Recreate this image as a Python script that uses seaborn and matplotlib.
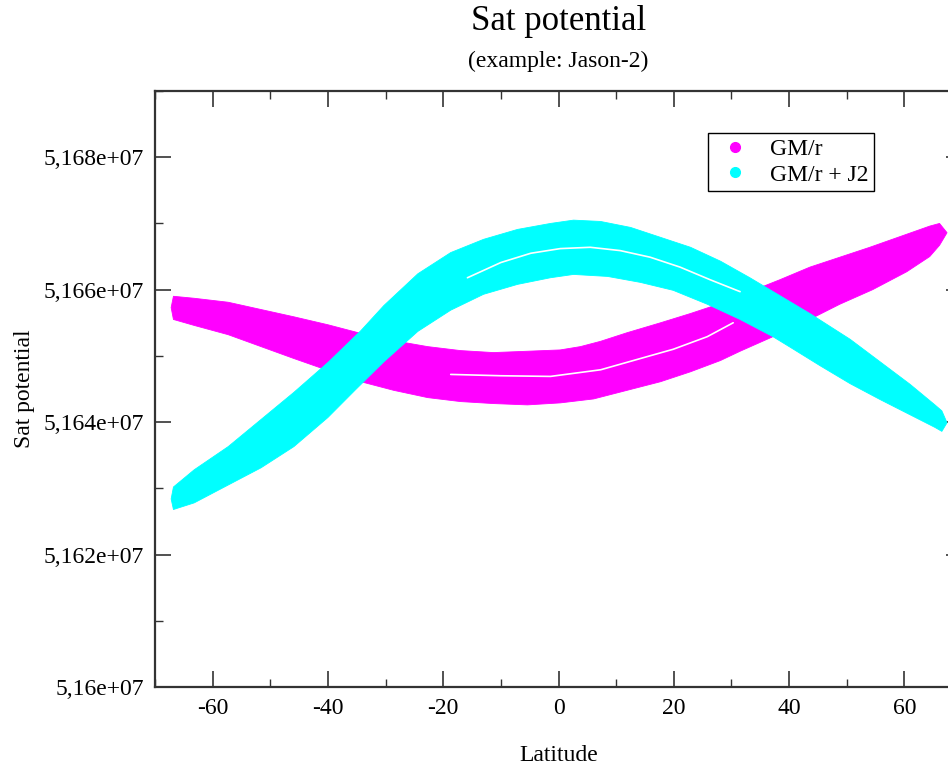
"""Sat potential vs latitude (Jason-2 example), GM/r and GM/r + J2 bands."""
import numpy as np
import pandas as pd
import matplotlib; matplotlib.use("Agg")
import matplotlib.pyplot as plt
import seaborn as sns
from matplotlib.lines import Line2D
from matplotlib.ticker import MultipleLocator, AutoMinorLocator, FuncFormatter

# band outlines (latitude in degrees, potential)
# upper edge runs from the left tip to the right tip, lower edge from left to right
gm_top_lat = [-67.2, -66.8, -63.2, -57.3, -51.6, -45.9, -40.0, -34.3, -28.6, -22.7, -17.0, -11.3, -5.4,
              0.3, 3.8, 7.3, 11.9, 17.7, 22.9, 28.1, 33.2, 38.4, 43.6, 48.8, 54.0, 59.2, 64.4, 66.1, 67.4]
gm_top = [51657300, 51659000, 51658700, 51658100, 51657000, 51655900, 51654700, 51653400, 51652300,
          51651400, 51650800, 51650500, 51650700, 51650900, 51651400, 51652200, 51653500, 51655000,
          51656400, 51657900, 51659700, 51661500, 51663400, 51664900, 51666400, 51668000, 51669600,
          51670000, 51668600]
gm_bot_lat = [-66.8, -63.2, -57.3, -51.6, -45.9, -40.0, -34.3, -28.6, -22.7, -17.0, -11.3, -5.4, 0.3,
              6.1, 11.9, 17.7, 22.9, 28.1, 31.5, 37.2, 43.1, 48.8, 54.5, 60.4, 64.4, 66.1]
gm_bot = [51655500, 51654600, 51653200, 51651400, 51649600, 51647800, 51646100, 51644800, 51643700,
          51643100, 51642800, 51642600, 51642900, 51643500, 51644800, 51646100, 51647600, 51649300,
          51650700, 51652900, 51655300, 51657800, 51660000, 51662700, 51665000, 51666700]
# white seam between ascending and descending passes
gm_seam_lat = [-18.7, -10.0, -1.4, 7.3, 14.2, 19.9, 25.8, 30.3]
gm_seam = [51647200, 51647000, 51646900, 51647900, 51649600, 51651000, 51652900, 51655000]

j2_top_lat = [-67.2, -66.8, -63.2, -57.3, -51.6, -45.9, -40.0, -34.3, -30.3, -24.4, -18.7, -13.0, -7.1,
              -1.4, 2.6, 7.3, 12.5, 17.7, 22.9, 28.1, 33.2, 38.4, 43.6, 50.6, 55.8, 61.0, 65.3, 66.5, 67.4]
j2_top = [51628400, 51630200, 51632800, 51636300, 51640400, 51644500, 51649000, 51653800, 51657600,
          51662400, 51665600, 51667600, 51669100, 51670000, 51670500, 51670300, 51669400, 51667900,
          51666400, 51664300, 51661800, 51659100, 51656400, 51652500, 51649100, 51645700, 51642600,
          51641700, 51639900]
j2_bot_lat = [-66.8, -63.2, -57.3, -51.6, -45.9, -40.0, -35.2, -30.3, -24.4, -18.7, -13.0, -7.1, -1.4,
              2.6, 8.5, 14.2, 19.9, 25.8, 31.5, 37.2, 40.2, 45.4, 50.6, 55.8, 61.0, 65.3, 66.5]
j2_bot = [51626800, 51627800, 51630500, 51633100, 51636300, 51640700, 51644900, 51649100, 51653700,
          51656900, 51659300, 51660800, 51661800, 51662300, 51662000, 51661100, 51659900, 51657800,
          51655500, 51652900, 51651300, 51648500, 51645800, 51643400, 51641100, 51639200, 51638600]
j2_seam_lat = [-15.8, -10.0, -4.8, 0.3, 5.5, 10.7, 15.9, 21.1, 26.3, 31.5]
j2_seam = [51661800, 51664100, 51665500, 51666200, 51666400, 51665900, 51664900, 51663400, 51661500,
           51659700]

series = ["GM/r", "GM/r + J2"]
colors = ["#ff00ff", "#00ffff"]

sns.set_theme(style="ticks")
plt.rcParams["font.family"] = ["Liberation Serif", "DejaVu Serif"]
plt.rcParams.update({"axes.unicode_minus": False, "text.color": "black", "axes.labelcolor": "black"})

fig = plt.figure(figsize=(9.48, 7.68), dpi=100)
ax = fig.add_axes([0.1635, 0.1055, 0.8513, 0.776])

outlines = [(gm_top_lat, gm_top, gm_bot_lat, gm_bot, gm_seam_lat, gm_seam),
            (j2_top_lat, j2_top, j2_bot_lat, j2_bot, j2_seam_lat, j2_seam)]
for (tl, tv, bl, bv, sl, sv), color in zip(outlines, colors):
    band = pd.DataFrame({"lat": list(tl) + list(bl)[::-1], "pot": list(tv) + list(bv)[::-1]})
    ax.fill(band["lat"], band["pot"], color=color, lw=0.6, ec=color, joinstyle="round")
    sns.lineplot(x=sl, y=sv, color="white", lw=1.2, ax=ax, legend=False)

ax.set_xlim(-70, 70); ax.set_ylim(51600000, 51690000)
ax.xaxis.set_major_locator(MultipleLocator(20)); ax.xaxis.set_minor_locator(AutoMinorLocator(2))
ax.yaxis.set_major_locator(MultipleLocator(20000)); ax.yaxis.set_minor_locator(AutoMinorLocator(2))
ax.yaxis.set_major_formatter(FuncFormatter(lambda v, p: f"{v/1e7:g}".replace(".", ",") + "e+07"))
ax.tick_params(which="both", direction="in", top=True, right=True, colors="#333333",
               labelcolor="black", labelsize=17)
ax.tick_params(which="major", length=11.5, width=1.2, pad=8)
ax.tick_params(which="minor", length=5.5, width=1.0)
for s in ax.spines.values():
    s.set_linewidth(1.6); s.set_color("#333333")

ax.set_xlabel("Latitude", fontsize=17); ax.xaxis.set_label_coords(0.5, -0.097)
ax.set_ylabel("Sat potential", fontsize=17); ax.yaxis.set_label_coords(-0.149, 0.5)
ax.text(0.5, 1.116, "Sat potential", transform=ax.transAxes, ha="center", va="center", fontsize=25)
ax.text(0.5, 1.049, "(example: Jason-2)", transform=ax.transAxes, ha="center", va="center", fontsize=17)

handles = [Line2D([], [], marker="o", ls="", color=c, markersize=7) for c in colors]
leg = ax.legend(handles, series, loc="upper left", bbox_to_anchor=(0.685, 0.9295), borderaxespad=0,
                fontsize=17, frameon=True, fancybox=False, framealpha=1, edgecolor="black",
                borderpad=0.25, handlelength=1.8, handletextpad=0.58, labelspacing=0.15)
leg.get_frame().set_linewidth(1.0)

plt.savefig("out.png", dpi=100)
plt.close()
